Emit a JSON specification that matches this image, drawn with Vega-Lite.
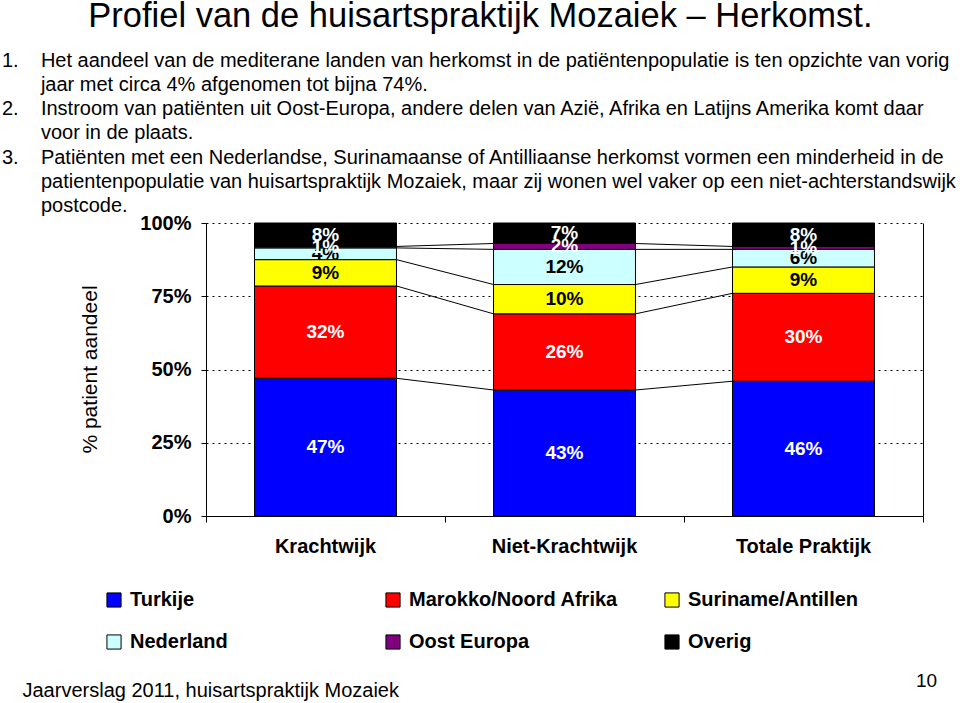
{
  "$schema": "https://vega.github.io/schema/vega-lite/v6.json",
  "width": 717,
  "height": 293,
  "autosize": {"type": "none"},
  "padding": {"left": 206, "top": 223, "right": 37, "bottom": 187},
  "background": "white",
  "config": {"font": "Liberation Sans", "view": {"stroke": null}},
  "title": {
    "text": "\u200b\u00a0\u00a0\u00a0\u00a0\u00a0\u00a0\u00a0\u00a0\u00a0Profiel van de huisartspraktijk Mozaiek – Herkomst.",
    "subtitle": [
      "1.\u00a0\u00a0\u00a0\u00a0Het aandeel van de mediterane landen van herkomst in de patiëntenpopulatie is ten opzichte van vorig",
      "\u200b\u00a0\u00a0\u00a0\u00a0\u00a0\u00a0\u00a0jaar met circa 4% afgenomen tot bijna 74%.",
      "2.\u00a0\u00a0\u00a0\u00a0Instroom van patiënten uit Oost-Europa, andere delen van Azië, Afrika en Latijns Amerika komt daar",
      "\u200b\u00a0\u00a0\u00a0\u00a0\u00a0\u00a0\u00a0voor in de plaats.",
      "3.\u00a0\u00a0\u00a0\u00a0Patiënten met een Nederlandse, Surinamaanse of Antilliaanse herkomst vormen een minderheid in de",
      "\u200b\u00a0\u00a0\u00a0\u00a0\u00a0\u00a0\u00a0patientenpopulatie van huisartspraktijk Mozaiek, maar zij wonen wel vaker op een niet-achterstandswijk",
      "\u200b\u00a0\u00a0\u00a0\u00a0\u00a0\u00a0\u00a0postcode."
    ],
    "anchor": "start",
    "frame": "group",
    "dx": -204,
    "offset": -4,
    "font": "Liberation Sans",
    "fontSize": 34.5,
    "fontWeight": "normal",
    "color": "#000",
    "subtitleFont": "Liberation Sans",
    "subtitleFontSize": 20,
    "subtitleColor": "#000",
    "subtitleLineHeight": 24.2,
    "subtitlePadding": 16
  },
  "data": {
    "values": [
      {"cat": "Krachtwijk", "series": "Turkije", "value": 47},
      {"cat": "Krachtwijk", "series": "Marokko/Noord Afrika", "value": 31.5},
      {"cat": "Krachtwijk", "series": "Suriname/Antillen", "value": 9},
      {"cat": "Krachtwijk", "series": "Nederland", "value": 4},
      {"cat": "Krachtwijk", "series": "Oost Europa", "value": 0.5},
      {"cat": "Krachtwijk", "series": "Overig", "value": 8},
      {"cat": "Niet-Krachtwijk", "series": "Turkije", "value": 43},
      {"cat": "Niet-Krachtwijk", "series": "Marokko/Noord Afrika", "value": 26},
      {"cat": "Niet-Krachtwijk", "series": "Suriname/Antillen", "value": 10},
      {"cat": "Niet-Krachtwijk", "series": "Nederland", "value": 12},
      {"cat": "Niet-Krachtwijk", "series": "Oost Europa", "value": 2},
      {"cat": "Niet-Krachtwijk", "series": "Overig", "value": 7},
      {"cat": "Totale Praktijk", "series": "Turkije", "value": 46},
      {"cat": "Totale Praktijk", "series": "Marokko/Noord Afrika", "value": 30},
      {"cat": "Totale Praktijk", "series": "Suriname/Antillen", "value": 9},
      {"cat": "Totale Praktijk", "series": "Nederland", "value": 6},
      {"cat": "Totale Praktijk", "series": "Oost Europa", "value": 1},
      {"cat": "Totale Praktijk", "series": "Overig", "value": 8}
    ]
  },
  "transform": [
    {"calculate": "indexof(['Turkije','Marokko/Noord Afrika','Suriname/Antillen','Nederland','Oost Europa','Overig'], datum.series)", "as": "order"},
    {"calculate": "indexof(['Krachtwijk','Niet-Krachtwijk','Totale Praktijk'], datum.cat) + 1", "as": "pos"},
    {"stack": "value", "groupby": ["cat"], "sort": [{"field": "order"}], "as": ["y0", "y1"], "offset": "zero"},
    {"calculate": "(datum.y0 + datum.y1) / 2", "as": "ymid"},
    {"calculate": "datum.pos - 0.297", "as": "xl"},
    {"calculate": "datum.pos + 0.297", "as": "xr"},
    {"calculate": "format(datum.value, '.0f') + '%'", "as": "label"}
  ],
  "resolve": {"axis": {"y": "independent", "x": "independent"}},
  "layer": [
    {
      "mark": {"type": "bar", "stroke": "#000", "strokeWidth": 1},
      "encoding": {
        "x": {
          "field": "xl", "type": "quantitative",
          "scale": {"domain": [0.5, 3.5], "nice": false, "zero": false},
          "axis": {
            "orient": "bottom",
            "values": [0.5, 1.5, 2.5, 3.5], "labels": false, "grid": false,
            "ticks": true, "tickSize": 6, "tickColor": "#000", "domainColor": "#000",
            "title": null
          }
        },
        "x2": {"field": "xr"},
        "y": {
          "field": "y0", "type": "quantitative",
          "scale": {"domain": [0, 100], "nice": false},
          "axis": {
            "values": [0, 25, 50, 75, 100], "labelExpr": "datum.value + '%'",
            "labelFontSize": 20, "labelFontWeight": "bold", "labelColor": "#000", "labelPadding": 10,
            "tickSize": 5, "tickColor": "#000", "domainColor": "#000",
            "grid": true, "gridColor": "#000", "gridDash": [2, 4], "gridWidth": 1,
            "title": "% patient aandeel", "titleFontSize": 21, "titleFontWeight": "normal", "titleColor": "#000",
            "titleX": -116, "titleY": 146, "titleAngle": -90, "titleAlign": "center", "titleBaseline": "middle"
          }
        },
        "y2": {"field": "y1"},
        "color": {
          "field": "series", "type": "nominal",
          "scale": {
            "domain": ["Turkije", "Marokko/Noord Afrika", "Suriname/Antillen", "Nederland", "Oost Europa", "Overig"],
            "range": ["#0000FF", "#FF0000", "#FFFF00", "#CCFFFF", "#800080", "#000000"]
          },
          "legend": {
            "orient": "none", "legendX": -102, "legendY": 367, "direction": "horizontal", "columns": 3,
            "title": null, "symbolType": "square", "symbolSize": 200, "symbolStrokeColor": "#000",
            "symbolStrokeWidth": 1, "symbolOpacity": 1, "labelFontSize": 20, "labelFontWeight": "bold", "labelColor": "#000",
            "gridAlign": "all", "columnPadding": 44, "rowPadding": 22, "labelOffset": 6, "labelLimit": 300, "padding": 0
          }
        }
      }
    },
    {
      "transform": [
        {"filter": "datum.series !== 'Overig'"},
        {"window": [{"op": "lead", "field": "y1", "as": "ny1"}, {"op": "lead", "field": "xl", "as": "nxl"}], "groupby": ["series"], "sort": [{"field": "pos"}]},
        {"filter": "datum.ny1 != null"}
      ],
      "mark": {"type": "rule", "stroke": "#000", "strokeWidth": 1},
      "encoding": {
        "x": {"field": "xr", "type": "quantitative", "axis": null},
        "x2": {"field": "nxl"},
        "y": {
          "field": "y1", "type": "quantitative",
          "axis": {
            "orient": "right", "labels": false, "ticks": false, "grid": false, "domainColor": "#000",
            "title": "10", "titleAngle": 0, "titleX": 3, "titleY": 457, "titleAlign": "center",
            "titleBaseline": "middle", "titleFontSize": 19, "titleFontWeight": "normal", "titleColor": "#000"
          }
        },
        "y2": {"field": "ny1"}
      }
    },
    {
      "mark": {"type": "text", "fontSize": 19, "fontWeight": "bold", "baseline": "middle", "align": "center"},
      "encoding": {
        "x": {"field": "pos", "type": "quantitative", "axis": null},
        "y": {"field": "ymid", "type": "quantitative", "axis": null},
        "text": {"field": "label"},
        "color": {
          "condition": {"test": "datum.series === 'Suriname/Antillen' || datum.series === 'Nederland'", "value": "#000"},
          "value": "#fff"
        }
      }
    },
    {
      "transform": [{"filter": "datum.series === 'Turkije'"}],
      "mark": {"type": "text", "fontSize": 20, "fontWeight": "bold", "baseline": "middle", "align": "center", "dy": 31, "color": "#000"},
      "encoding": {
        "x": {
          "field": "pos", "type": "quantitative",
          "axis": {
            "orient": "bottom", "domain": false, "ticks": false, "labels": false, "grid": false,
            "title": "Jaarverslag 2011, huisartspraktijk Mozaiek",
            "titleX": -184, "titleY": 174, "titleAlign": "left", "titleBaseline": "middle",
            "titleFontSize": 20, "titleFontWeight": "normal", "titleColor": "#000"
          }
        },
        "y": {"datum": 0, "type": "quantitative", "axis": null},
        "text": {"field": "cat"}
      }
    }
  ]
}
